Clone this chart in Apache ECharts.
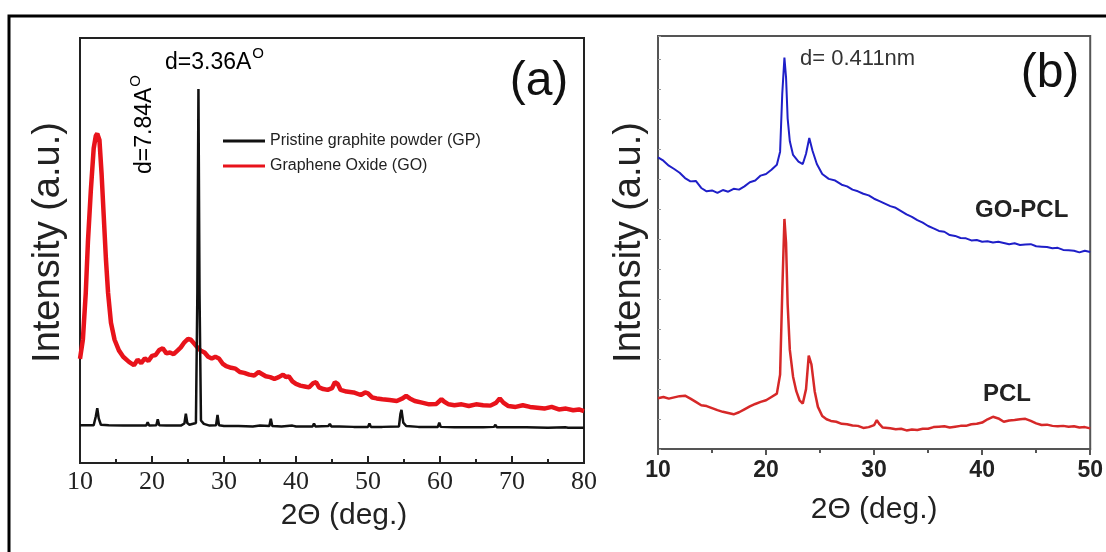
<!DOCTYPE html>
<html>
<head>
<meta charset="utf-8">
<script src="https://cdn.jsdelivr.net/npm/echarts@6/dist/echarts.min.js"></script>
<style>
  html, body { margin: 0; padding: 0; background: #fff; }
  #main { width: 1106px; height: 552px; }
</style>
</head>
<body>
<div id="main"></div>
<script>
// panel (a): XRD of graphite powder and graphene oxide, [2theta, intensity a.u.]
var gpData = [
  [10, 8.9], [11, 8.9], [11.9, 8.9], [12.2, 11], [12.4, 12.9], [12.6, 10.5], [12.9, 9], [14, 8.9],
  [16, 8.8], [18, 8.8], [19.2, 8.8], [19.4, 9.6], [19.6, 8.8], [20.6, 8.9], [20.8, 10.3], [21.0, 8.9],
  [22, 8.8], [24, 8.8], [24.5, 9.3], [24.7, 11.6], [24.9, 9.4], [25.2, 9.0], [26.1, 9.4], [26.3, 40],
  [26.45, 88], [26.6, 40], [26.8, 10], [27.2, 9.2], [28, 8.8], [28.9, 8.9], [29.1, 11.3], [29.3, 8.9],
  [30, 8.7], [32, 8.7], [34, 8.6], [35, 8.8], [36.3, 8.7], [36.5, 10.4], [36.7, 8.7], [38, 8.6],
  [39.5, 8.8], [40, 8.6], [42.3, 8.6], [42.5, 9.3], [42.7, 8.6], [44.5, 8.7], [44.7, 9.2], [44.9, 8.6],
  [46, 8.6], [48, 8.5], [50, 8.5], [50.2, 9.3], [50.4, 8.5], [52, 8.5], [54.3, 8.6], [54.5, 11.5],
  [54.65, 12.5], [54.9, 9.5], [55.3, 8.7], [57, 8.5], [59.7, 8.5], [59.9, 9.5], [60.1, 8.5], [62, 8.4],
  [64, 8.4], [66, 8.4], [67.5, 8.5], [67.7, 9.0], [67.9, 8.4], [70, 8.4], [72, 8.4], [75, 8.3],
  [77.4, 8.4], [77.6, 8.8], [77.8, 8.3], [80, 8.3]
];
var goData = [
  [10, 24.5], [10.4, 29], [10.8, 40], [11.1, 52], [11.5, 64], [11.9, 74], [12.2, 77], [12.4, 77.5],
  [12.7, 76], [13.0, 68], [13.3, 58], [13.6, 48], [13.9, 40], [14.3, 33], [14.8, 29], [15.4, 26.5],
  [16.0, 25], [16.8, 23.8], [17.5, 23.0], [18.0, 24.3], [18.5, 23.5], [19.0, 24.6], [19.5, 24.0],
  [20.0, 25.2], [20.5, 25.4], [21.0, 26.6], [21.5, 27.0], [22.0, 25.8], [22.5, 26.0], [23.0, 25.6],
  [23.5, 26.4], [24.0, 27.2], [24.5, 28.4], [25.0, 29.2], [25.4, 29.0], [25.8, 28.2], [26.3, 27.2],
  [26.8, 26.4], [27.3, 26.0], [27.8, 25.0], [28.3, 24.6], [28.8, 25.0], [29.3, 24.6], [29.8, 23.4],
  [30.3, 22.8], [31.0, 22.4], [31.6, 22.2], [32.2, 21.4], [32.8, 21.2], [33.5, 20.8], [34.2, 20.6],
  [34.8, 21.4], [35.2, 21.0], [35.8, 20.4], [36.4, 20.2], [37.0, 19.8], [37.6, 20.2], [38.2, 20.8],
  [38.6, 20.2], [39.0, 20.4], [39.5, 19.2], [40.0, 18.6], [40.6, 18.2], [41.2, 18.0], [41.8, 17.8],
  [42.4, 18.8], [42.8, 19.0], [43.2, 17.8], [43.8, 17.4], [44.4, 17.2], [45.0, 17.6], [45.4, 19.0],
  [45.8, 18.6], [46.2, 17.2], [47.0, 16.8], [48.0, 16.6], [49.0, 16.0], [49.6, 16.6], [50.0, 16.4],
  [50.6, 15.4], [51.2, 15.2], [52.0, 15.0], [53.0, 14.8], [54.0, 14.6], [54.8, 15.2], [55.3, 15.8],
  [55.8, 15.2], [56.5, 14.6], [57.5, 14.2], [58.5, 13.8], [59.5, 13.9], [60.2, 15.0], [60.6, 14.4],
  [61.2, 13.8], [62.0, 13.6], [63.0, 13.8], [64.0, 13.4], [65.0, 13.8], [66.0, 13.6], [67.0, 13.5],
  [67.8, 14.2], [68.3, 15.2], [68.8, 14.2], [69.5, 13.4], [70.5, 13.2], [71.5, 13.6], [72.5, 13.2],
  [73.5, 13.0], [74.5, 12.8], [75.5, 13.2], [76.5, 12.6], [77.5, 12.8], [78.5, 12.4], [79.3, 12.6],
  [80.0, 12.2]
];

// panel (b): GO-PCL composite and neat PCL
var goPclData = [
  [10, 70.6], [10.5, 69.8], [11, 68.6], [11.5, 67.8], [12, 66.9], [12.5, 65.6], [13, 64.8], [13.5, 64.9],
  [14, 63.2], [14.5, 62.4], [15, 62.6], [15.5, 62.0], [16, 62.7], [16.5, 62.3], [17, 63.0], [17.5, 62.8],
  [18, 63.6], [18.5, 64.6], [19, 65.0], [19.5, 66.2], [20, 66.6], [20.5, 67.6], [21, 68.8], [21.3, 72],
  [21.5, 86], [21.7, 94.8], [21.85, 90], [22.0, 80], [22.2, 74.5], [22.5, 71.2], [23.0, 69.6], [23.4, 69.0],
  [23.7, 71.5], [24.0, 75.3], [24.3, 72.2], [24.7, 69.0], [25.2, 66.6], [25.8, 65.4], [26.4, 65.0],
  [27.0, 64.0], [27.5, 63.6], [28.0, 62.8], [28.5, 62.4], [29.0, 61.8], [29.5, 61.4], [30.0, 60.6],
  [30.5, 60.0], [31.0, 59.4], [31.5, 58.8], [32.0, 58.4], [32.5, 57.6], [33.0, 56.8], [33.5, 56.2],
  [34.0, 55.4], [34.5, 54.8], [35.0, 54.0], [35.5, 53.4], [36.0, 52.8], [36.5, 52.6], [37.0, 51.8],
  [37.5, 51.6], [38.0, 51.1], [38.5, 51.0], [39.0, 50.5], [39.5, 50.6], [40.0, 50.2], [40.5, 50.3],
  [41.0, 50.0], [41.5, 50.2], [42.0, 49.9], [42.5, 49.6], [43.0, 49.8], [43.5, 49.4], [44.0, 49.5],
  [44.5, 49.6], [45.0, 49.1], [45.5, 49.0], [46.0, 48.9], [46.5, 48.6], [47.0, 48.7], [47.5, 48.2],
  [48.0, 48.1], [48.5, 48.0], [49.0, 47.6], [49.5, 48.0], [50.0, 47.7]
];
var pclData = [
  [10, 12.3], [10.5, 12.6], [11, 12.2], [11.5, 12.5], [12, 12.8], [12.5, 12.9], [13, 12.2], [13.5, 11.4],
  [14, 10.6], [14.5, 10.4], [15, 9.9], [15.5, 9.4], [16, 9.0], [16.5, 8.7], [17, 8.4], [17.5, 8.9],
  [18, 9.6], [18.5, 10.3], [19, 10.9], [19.5, 11.4], [20, 11.8], [20.5, 12.6], [21, 13.4], [21.3, 18],
  [21.5, 38], [21.7, 55.7], [21.85, 50], [22.0, 35], [22.2, 24], [22.5, 17.5], [22.8, 14], [23.1, 11.8],
  [23.4, 11.0], [23.7, 14.5], [23.95, 22.6], [24.2, 20.5], [24.5, 14], [24.8, 10.2], [25.2, 8.0],
  [25.6, 7.2], [26, 6.8], [26.5, 6.6], [27, 6.1], [27.5, 6.0], [28, 5.7], [28.5, 5.6], [29, 5.1],
  [29.5, 5.3], [30.0, 5.8], [30.25, 7.0], [30.5, 6.0], [30.8, 5.2], [31.5, 5.0], [32, 4.8], [32.5, 4.9],
  [33, 4.5], [33.5, 4.7], [34, 4.6], [34.5, 4.9], [35, 4.9], [35.5, 5.3], [36, 5.4], [36.5, 5.5],
  [37, 5.2], [37.5, 5.4], [38, 5.6], [38.5, 5.6], [39, 6.0], [39.5, 6.1], [40, 6.4], [40.5, 7.2],
  [41, 7.8], [41.5, 7.4], [42, 6.6], [42.5, 6.9], [43, 7.0], [43.5, 7.2], [44, 7.3], [44.5, 6.8],
  [45, 6.2], [45.5, 5.8], [46, 5.9], [46.5, 5.6], [47, 5.5], [47.5, 5.6], [48, 5.4], [48.5, 5.5],
  [49, 5.2], [49.5, 5.3], [50, 5.0]
];

var rangeA = [10, 80];
var rangeB = [10, 50];
var legendNames = ['Pristine graphite powder (GP)', 'Graphene Oxide (GO)'];

var chart = echarts.init(document.getElementById('main'));

var supRich = {
  m: { fontSize: 23, fontFamily: 'Liberation Sans', color: '#222', lineHeight: 28, verticalAlign: 'bottom' },
  s: { fontSize: 15, fontFamily: 'Liberation Sans', color: '#222', lineHeight: 28, verticalAlign: 'top', padding: [0, 0, 0, 1] }
};

var option = {
  animation: false,
  backgroundColor: '#fff',
  grid: [
    { left: 80, top: 38, width: 504, height: 425, show: true, borderColor: '#222', borderWidth: 2, backgroundColor: 'transparent' },
    { left: 658, top: 36, width: 434, height: 413, show: true, borderColor: '#555', borderWidth: 2, backgroundColor: 'transparent' }
  ],
  legend: {
    data: legendNames,
    orient: 'vertical',
    left: 218,
    top: 128,
    icon: 'rect',
    itemWidth: 42,
    itemHeight: 3,
    itemGap: 9,
    textStyle: { fontSize: 16, color: '#222', fontFamily: 'Liberation Sans' }
  },
  xAxis: [
    {
      gridIndex: 0, type: 'value', min: rangeA[0], max: rangeA[1], interval: 10,
      name: '2\u0398 (deg.)', nameLocation: 'middle', nameGap: 38,
      nameTextStyle: { fontSize: 30, color: '#222', fontFamily: 'Liberation Sans', padding: [0, 0, 0, 24] },
      axisLine: { show: true, lineStyle: { color: '#222', width: 2 } },
      axisTick: { inside: true, length: 7, lineStyle: { color: '#222', width: 2 } },
      minorTick: { show: true, splitNumber: 2, length: 4, lineStyle: { color: '#222', width: 2 } },
      axisLabel: { fontSize: 26, color: '#222', fontFamily: 'Liberation Serif', margin: 6 },
      splitLine: { show: false }
    },
    {
      gridIndex: 1, type: 'value', min: rangeB[0], max: rangeB[1], interval: 10,
      name: '2\u0398 (deg.)', nameLocation: 'middle', nameGap: 46,
      nameTextStyle: { fontSize: 30, color: '#222', fontFamily: 'Liberation Sans' },
      axisLine: { show: true, lineStyle: { color: '#555', width: 2 } },
      axisTick: { inside: false, length: 6, lineStyle: { color: '#555', width: 2 } },
      minorTick: { show: true, splitNumber: 2, length: 4, lineStyle: { color: '#555', width: 2 } },
      axisLabel: { fontSize: 23, fontWeight: 'bold', color: '#222', fontFamily: 'Liberation Sans', margin: 10 },
      splitLine: { show: false }
    }
  ],
  yAxis: [
    {
      gridIndex: 0, type: 'value', min: 0, max: 100,
      name: 'Intensity (a.u.)', nameLocation: 'middle', nameGap: 12,
      nameTextStyle: { fontSize: 38, color: '#222', fontFamily: 'Liberation Sans', padding: [0, 0, 0, 16] },
      axisLine: { show: true, lineStyle: { color: '#222', width: 2 } },
      axisTick: { show: false },
      axisLabel: { show: false },
      splitLine: { show: false }
    },
    {
      gridIndex: 1, type: 'value', min: 0, max: 100, interval: 7.25,
      name: 'Intensity (a.u.)', nameLocation: 'middle', nameGap: 9,
      nameTextStyle: { fontSize: 38, color: '#222', fontFamily: 'Liberation Sans' },
      axisLine: { show: true, lineStyle: { color: '#555', width: 2 } },
      axisTick: { inside: true, length: 3, lineStyle: { color: '#999', width: 1 } },
      axisLabel: { show: false },
      splitLine: { show: false }
    }
  ],
  series: [
    {
      name: legendNames[0], type: 'line', xAxisIndex: 0, yAxisIndex: 0, data: gpData,
      symbol: 'none', lineStyle: { color: '#111', width: 2.5 }, itemStyle: { color: '#111' }, z: 3
    },
    {
      name: legendNames[1], type: 'line', xAxisIndex: 0, yAxisIndex: 0, data: goData,
      symbol: 'none', lineStyle: { color: '#e8131b', width: 4.5 }, itemStyle: { color: '#e8131b' }, z: 2
    },
    {
      name: 'GO-PCL', type: 'line', xAxisIndex: 1, yAxisIndex: 1, data: goPclData,
      symbol: 'none', lineStyle: { color: '#1f1fc8', width: 2 }, itemStyle: { color: '#1f1fc8' }
    },
    {
      name: 'PCL', type: 'line', xAxisIndex: 1, yAxisIndex: 1, data: pclData,
      symbol: 'none', lineStyle: { color: '#d62828', width: 2.5 }, itemStyle: { color: '#d62828' }
    }
  ],
  graphic: [
    // figure frame (top and left edges only)
    { type: 'polyline', shape: { points: [[9, 552], [9, 16], [1106, 16]] }, style: { stroke: '#000', lineWidth: 3, fill: null } },
    { type: 'text', style: { text: '(a)', x: 539, y: 82, textAlign: 'center', textVerticalAlign: 'middle', font: '48px "Liberation Sans"', fill: '#111' } },
    { type: 'text', style: { text: '(b)', x: 1050, y: 74, textAlign: 'center', textVerticalAlign: 'middle', font: '48px "Liberation Sans"', fill: '#111' } },
    { type: 'text', style: { text: '{m|d=3.36A}{s|O}', rich: supRich, x: 165, y: 60, textAlign: 'left', textVerticalAlign: 'middle' } },
    {
      type: 'group', x: 142, y: 174, rotation: Math.PI / 2,
      children: [
        { type: 'text', style: { text: '{m|d=7.84A}{s|O}', rich: supRich, x: 0, y: 0, textAlign: 'left', textVerticalAlign: 'middle' } }
      ]
    },
    { type: 'text', style: { text: 'd= 0.411nm', x: 800, y: 59, textAlign: 'left', textVerticalAlign: 'middle', font: '22px "Liberation Sans"', fill: '#333' } },
    { type: 'text', style: { text: 'GO-PCL', x: 975, y: 210, textAlign: 'left', textVerticalAlign: 'middle', font: 'bold 24px "Liberation Sans"', fill: '#222' } },
    { type: 'text', style: { text: 'PCL', x: 983, y: 394, textAlign: 'left', textVerticalAlign: 'middle', font: 'bold 24px "Liberation Sans"', fill: '#222' } }
  ]
};

chart.setOption(option);
</script>
</body>
</html>
